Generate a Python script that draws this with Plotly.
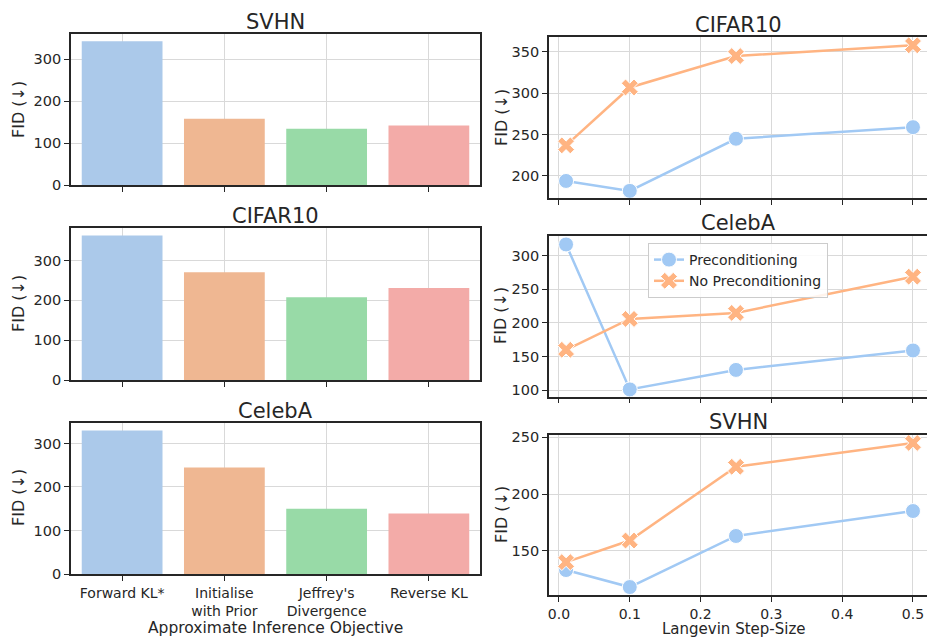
import plotly.graph_objects as go
from plotly.subplots import make_subplots

# ---- data ----
objectives = ["Forward KL*", "Initialise<br>with Prior", "Jeffrey's<br>Divergence", "Reverse KL"]
bar_svhn = [343, 158, 134, 142]
bar_cifar = [363, 271, 208, 231]
bar_celeba = [330, 245, 150, 139]

step_sizes = [0.01, 0.1, 0.25, 0.5]
cifar_pre = [194, 182, 245, 259]
cifar_nopre = [237, 307, 345, 358]
celeba_pre = [317, 101, 130, 159]
celeba_nopre = [160, 206, 215, 269]
svhn_pre = [133, 118, 163, 185]
svhn_nopre = [140, 159, 224, 245]

bar_colors = ["#abc9ea", "#efb792", "#98daa7", "#f3aba8"]
c_pre = "#a1c9f4"
c_nopre = "#ffb482"

W, H = 927, 637
FONT = "DejaVu Sans"
TXT = "#262626"

fig = make_subplots(rows=3, cols=2)

# left bar plots
left = [(bar_svhn, 1, "SVHN", 360), (bar_cifar, 2, "CIFAR10", 382), (bar_celeba, 3, "CelebA", 347)]
for vals, r, title, ymax in left:
    fig.add_trace(go.Bar(x=objectives, y=vals, marker=dict(color=bar_colors, line=dict(width=0)),
                         width=0.79, showlegend=False), row=r, col=1)

right = [(cifar_pre, cifar_nopre, 1), (celeba_pre, celeba_nopre, 2), (svhn_pre, svhn_nopre, 3)]
for pre, nopre, r in right:
    show = (r == 2)
    fig.add_trace(go.Scatter(x=step_sizes, y=pre, mode="lines+markers", name="Preconditioning",
                             line=dict(color=c_pre, width=2.5),
                             marker=dict(symbol="circle", size=15, color=c_pre, line=dict(color="white", width=1)),
                             showlegend=show), row=r, col=2)
    fig.add_trace(go.Scatter(x=step_sizes, y=nopre, mode="lines+markers", name="No Preconditioning",
                             line=dict(color=c_nopre, width=2.5),
                             marker=dict(symbol="x", size=15, color=c_nopre, line=dict(color="white", width=1)),
                             showlegend=show), row=r, col=2)

def px_x(p):
    return p / W

def px_y(p):
    return 1 - p / H

axis_common = dict(showline=True, linecolor=TXT, linewidth=1.6, mirror=True,
                   showgrid=True, gridcolor="#d9d9d9", gridwidth=1,
                   ticks="outside", ticklen=5, tickwidth=1.2, tickcolor=TXT,
                   tickfont=dict(family=FONT, size=14.5, color=TXT), zeroline=False,
                   automargin=False)

left_dom_x = [px_x(71), px_x(480)]
right_dom_x = [px_x(549), 1.0]
left_dom_y = [(34, 185), (228, 380), (423, 574)]
right_dom_y = [(37, 198), (236, 396.5), (435, 595)]
right_ranges = [[173.4, 368], [90.4, 329.6], [111, 252]]
right_dtick = [50, 50, 50]

layout = {}
for i, (vals, r, title, ymax) in enumerate(left):
    idx = 2 * (r - 1) + 1
    xn = "xaxis" if idx == 1 else f"xaxis{idx}"
    yn = "yaxis" if idx == 1 else f"yaxis{idx}"
    t, b = left_dom_y[i]
    layout[xn] = dict(axis_common, domain=left_dom_x, range=[-0.5, 3.5],
                      showticklabels=(r == 3), type="category",
                      tickfont=dict(family=FONT, size=14, color=TXT))
    layout[yn] = dict(axis_common, domain=[px_y(b), px_y(t)], range=[0, ymax], dtick=100)
for i, (pre, nopre, r) in enumerate(right):
    idx = 2 * (r - 1) + 2
    xn = f"xaxis{idx}"
    yn = f"yaxis{idx}"
    t, b = right_dom_y[i]
    layout[xn] = dict(axis_common, domain=right_dom_x, range=[-0.0141, 0.5198],
                      tickvals=[0, 0.1, 0.2, 0.3, 0.4, 0.5],
                      ticktext=["0.0", "0.1", "0.2", "0.3", "0.4", "0.5"],
                      showticklabels=(r == 3),
                      tickfont=dict(family=FONT, size=14, color=TXT))
    layout[yn] = dict(axis_common, domain=[px_y(b), px_y(t)], range=right_ranges[i], dtick=right_dtick[i])

fig.update_layout(**layout)

annotations = []
# titles
titles = [("SVHN", 275, 22), ("CIFAR10", 275, 216), ("CelebA", 275, 411),
          ("CIFAR10", 738, 25), ("CelebA", 738, 223), ("SVHN", 738, 422)]
for text, x, y in titles:
    annotations.append(dict(text=text, x=px_x(x), y=px_y(y), xref="paper", yref="paper",
                            xanchor="center", yanchor="middle", showarrow=False,
                            font=dict(family=FONT, size=21, color=TXT)))
# y axis titles
for y in [110, 304, 498]:
    annotations.append(dict(text="FID (↓)", x=px_x(18), y=px_y(y), xref="paper", yref="paper",
                            xanchor="center", yanchor="middle", textangle=-90, showarrow=False,
                            font=dict(family=FONT, size=16, color=TXT)))
for y in [118, 316, 515]:
    annotations.append(dict(text="FID (↓)", x=px_x(501), y=px_y(y), xref="paper", yref="paper",
                            xanchor="center", yanchor="middle", textangle=-90, showarrow=False,
                            font=dict(family=FONT, size=16, color=TXT)))
# x axis titles
annotations.append(dict(text="Approximate Inference Objective", x=px_x(275), y=px_y(628),
                        xref="paper", yref="paper", xanchor="center", yanchor="middle",
                        showarrow=False, font=dict(family=FONT, size=15.5, color=TXT)))
annotations.append(dict(text="Langevin Step-Size", x=px_x(733), y=px_y(628.5),
                        xref="paper", yref="paper", xanchor="center", yanchor="middle",
                        showarrow=False, borderpad=0, font=dict(family=FONT, size=15, color=TXT)))

fig.update_layout(
    width=W, height=H, autosize=False,
    margin=dict(l=0, r=0, t=0, b=0, autoexpand=False),
    paper_bgcolor="white", plot_bgcolor="white",
    bargap=0.2,
    annotations=annotations,
    legend=dict(x=px_x(648), y=px_y(243), xanchor="left", yanchor="top",
                bgcolor="rgba(255,255,255,0.85)", bordercolor="#cccccc", borderwidth=1,
                font=dict(family=FONT, size=14, color=TXT), itemwidth=30,
                tracegroupgap=0),
    font=dict(family=FONT, color=TXT),
)

fig.write_html("out.html", config={"displayModeBar": False},
               post_script="document.body.style.margin='0';document.body.style.padding='0';"
                           "document.body.style.overflow='hidden';")
